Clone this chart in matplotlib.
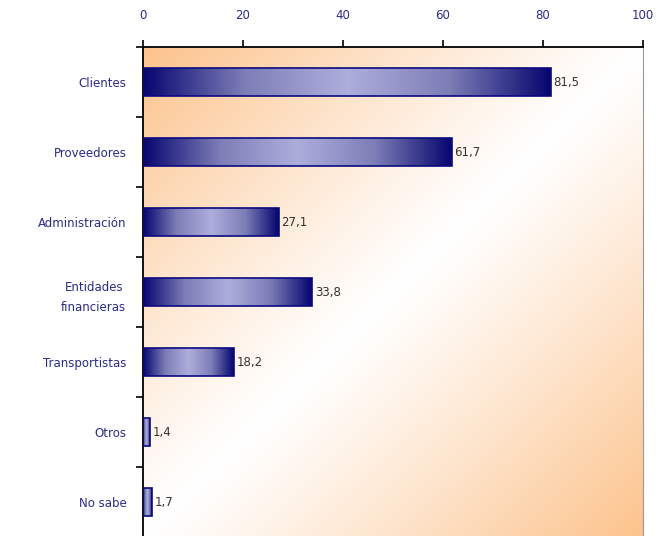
import numpy as np
import matplotlib
matplotlib.use('Agg')
import matplotlib.pyplot as plt
from matplotlib.colors import LinearSegmentedColormap

categorias = ['Clientes', 'Proveedores', 'Administración', 'Entidades\nfinancieras',
              'Transportistas', 'Otros', 'No sabe']
valores = [81.5, 61.7, 27.1, 33.8, 18.2, 1.4, 1.7]
etiquetas = ['81,5', '61,7', '27,1', '33,8', '18,2', '1,4', '1,7']
xticks = [0, 20, 40, 60, 80, 100]

plt.rcParams['font.family'] = ['DejaVu Sans']

fig = plt.figure(figsize=(6.62, 5.36), dpi=100)
ax = fig.add_axes([143/662, -1/536, 500/662, 490/536])

n = len(categorias)

# fondo degradado naranja-blanco-naranja en diagonal
u = np.linspace(0, 1, 300)
v = np.linspace(0, 1, 300)
U, V = np.meshgrid(u, v)
d = np.abs(U + V - 1) ** 1.1
fondo = LinearSegmentedColormap.from_list('fondo', ['#ffffff', '#fcc38c'])
ax.imshow(d, cmap=fondo, vmin=0, vmax=1, extent=[0, 100, n - 0.5, -0.5],
          aspect='auto', zorder=0)

# barras con degradado
barra = LinearSegmentedColormap.from_list('barra', ['#06066f', '#7e7eb8', '#aeaedc',
                                                    '#7e7eb8', '#06066f'])
grad = np.linspace(0, 1, 256).reshape(1, -1)
alto = 0.4
for i, val in enumerate(valores):
    ax.imshow(grad, cmap=barra, extent=[0, val, i + alto/2, i - alto/2],
              aspect='auto', zorder=2)
    ax.barh(i, val, height=alto, fill=False, edgecolor='#0a0a80', linewidth=1.2, zorder=3)
    ax.text(val + 0.6, i, etiquetas[i], va='center', ha='left', fontsize=8.5,
            color='#333333', zorder=4)

ax.set_xlim(0, 100)
ax.set_ylim(n - 0.5, -0.5)

ax.xaxis.tick_top()
ax.set_xticks(xticks)
ax.set_xticklabels([str(t) for t in xticks], fontsize=8.5)
ax.tick_params(axis='x', direction='out', length=5, width=1.2, pad=13, colors='black',
               labelcolor='#2b2b8a')

ax.set_yticks(range(n))
ax.set_yticklabels(categorias, color='#2b2b8a', fontsize=8.5, linespacing=1.7)
for lab in ax.get_yticklabels():
    lab.set_multialignment('center')
ax.tick_params(axis='y', which='major', length=0, pad=12)
ax.set_yticks(np.arange(-0.5, n, 1), minor=True)
ax.tick_params(axis='y', which='minor', direction='out', length=5, width=1.2)

ax.spines['top'].set_linewidth(1.3)
ax.spines['left'].set_linewidth(1.3)
ax.spines['right'].set_color('#999999')
ax.spines['right'].set_linewidth(0.8)
ax.spines['bottom'].set_visible(False)

fig.savefig('out.png', dpi=100)
